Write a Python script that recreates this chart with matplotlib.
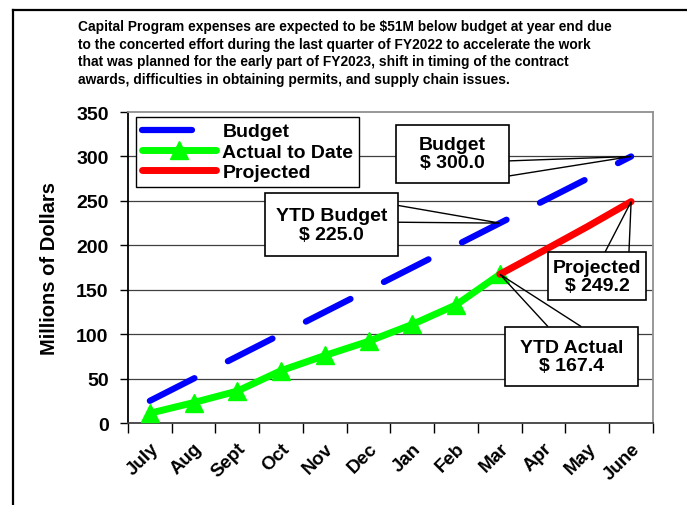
import matplotlib
matplotlib.use("Agg")
import matplotlib.pyplot as plt
from matplotlib.lines import Line2D
from matplotlib.patches import Rectangle, Polygon

plt.rcParams['font.family'] = ['Liberation Sans', 'DejaVu Sans']
plt.rcParams['font.weight'] = 'bold'

months = ["July", "Aug", "Sept", "Oct", "Nov", "Dec",
          "Jan", "Feb", "Mar", "Apr", "May", "June"]
budget = [25, 50, 75, 100, 125, 150, 175, 200, 225, 250, 275, 300]
actual = [11, 23, 36, 59, 76, 92, 111, 133, 167.4]
projected_months = ["Mar", "Apr", "May", "June"]
projected = [167.4, 194, 221, 249.2]
y_ticks = [0, 50, 100, 150, 200, 250, 300, 350]

note = ("Capital Program expenses are expected to be $51M below budget at year end due\n"
        "to the concerted effort during the last quarter of FY2022 to accelerate the work\n"
        "that was planned for the early part of FY2023, shift in timing of the contract\n"
        "awards, difficulties in obtaining permits, and supply chain issues.")

x_all = list(range(len(months)))
x_act = x_all[:len(actual)]
x_proj = [months.index(m) for m in projected_months]

fig = plt.figure(figsize=(6.87, 5.06), dpi=100)
ax = fig.add_axes([0.1863, 0.162, 0.7642, 0.6146])

# outer frame (left and top only visible)
fig.add_artist(Line2D([13 / 687, 13 / 687], [0, 1 - 11 / 506], color="black", lw=1.6))
fig.add_artist(Line2D([13 / 687, 1], [1 - 11 / 506, 1 - 11 / 506], color="black", lw=1.6))

fig.text(78 / 687, 1 - 20 / 506, note, ha="left", va="top", fontsize=9.9,
         fontweight="bold", linespacing=1.33)

ax.plot(x_all, budget, color="#0000FF", lw=4.5, linestyle=(0, (8, 6)),
        dash_capstyle="round", solid_capstyle="round", label="Budget", zorder=3)
ax.plot(x_act, actual, color="#00FF00", lw=5, marker="^", markersize=13,
        solid_capstyle="round", label="Actual to Date", zorder=4)
ax.plot(x_proj, projected, color="#FF0000", lw=5, solid_capstyle="round",
        label="Projected", zorder=5)

ax.set_xlim(-0.5, len(months) - 0.5)
ax.set_ylim(0, 350)
ax.set_yticks(y_ticks)
ax.set_yticklabels([str(v) for v in y_ticks], fontsize=14, fontweight="bold")
ax.set_xticks(x_all)
ax.set_xticklabels(months, rotation=45, ha="right", rotation_mode="anchor",
                   fontsize=13.5, fontweight="bold")
ax.set_xticks([i - 0.5 for i in range(len(months) + 1)], minor=True)
ax.tick_params(axis="x", which="major", length=0, pad=12)
ax.tick_params(axis="x", which="minor", length=7, width=1, direction="out")
ax.tick_params(axis="y", length=6, width=1, direction="out", pad=8)

for v in y_ticks[1:-1]:
    ax.axhline(v, color="#404040", lw=0.9, zorder=1)

ax.spines["left"].set_color("black")
ax.spines["bottom"].set_color("#404040")
ax.spines["top"].set_color("#909090")
ax.spines["right"].set_color("#909090")
for s in ax.spines.values():
    s.set_linewidth(1.3)

ax.set_ylabel("Millions of Dollars", fontsize=14.5, fontweight="bold", labelpad=12)

leg = ax.legend(loc="upper left", bbox_to_anchor=(0.015, 0.984), fontsize=14,
                frameon=True, fancybox=False, framealpha=1, edgecolor="black",
                handlelength=3.8, handletextpad=0.35, labelspacing=0.14,
                borderpad=0.3, borderaxespad=0)
leg.get_frame().set_linewidth(1.0)
for t in leg.get_texts():
    t.set_fontweight("bold")


def callout(text, cx, cy, w, h, base, tip):
    # box centred at (cx, cy) in data units, wedge from two base points to tip
    ax.add_patch(Rectangle((cx - w / 2, cy - h / 2), w, h, facecolor="white",
                           edgecolor="black", lw=1.2, zorder=7))
    ax.add_patch(Polygon([base[0], tip, base[1]], closed=False, fill=False,
                         edgecolor="black", lw=1.0, zorder=6))
    ax.text(cx, cy, text, ha="center", va="center", fontsize=14,
            fontweight="bold", linespacing=1.1, zorder=8)


i_mar = months.index("Mar")
i_jun = months.index("June")

callout("Budget\n$ 300.0", 6.92, 303, 2.57, 65,
        [(8.2, 295), (8.2, 278)], (x_all[i_jun], budget[i_jun]))
callout("YTD Budget\n$ 225.0", 4.15, 223, 3.03, 71,
        [(5.66, 245), (5.66, 226)], (x_all[i_mar], budget[i_mar]))
callout("Projected\n$ 249.2", 10.22, 165, 2.23, 54,
        [(10.4, 192), (10.95, 192)], (x_proj[-1], projected[-1]))
callout("YTD Actual\n$ 167.4", 9.64, 75, 3.03, 67,
        [(9.10, 108.5), (9.86, 108.5)], (x_act[-1], actual[-1]))

fig.savefig("out.png", dpi=100)
